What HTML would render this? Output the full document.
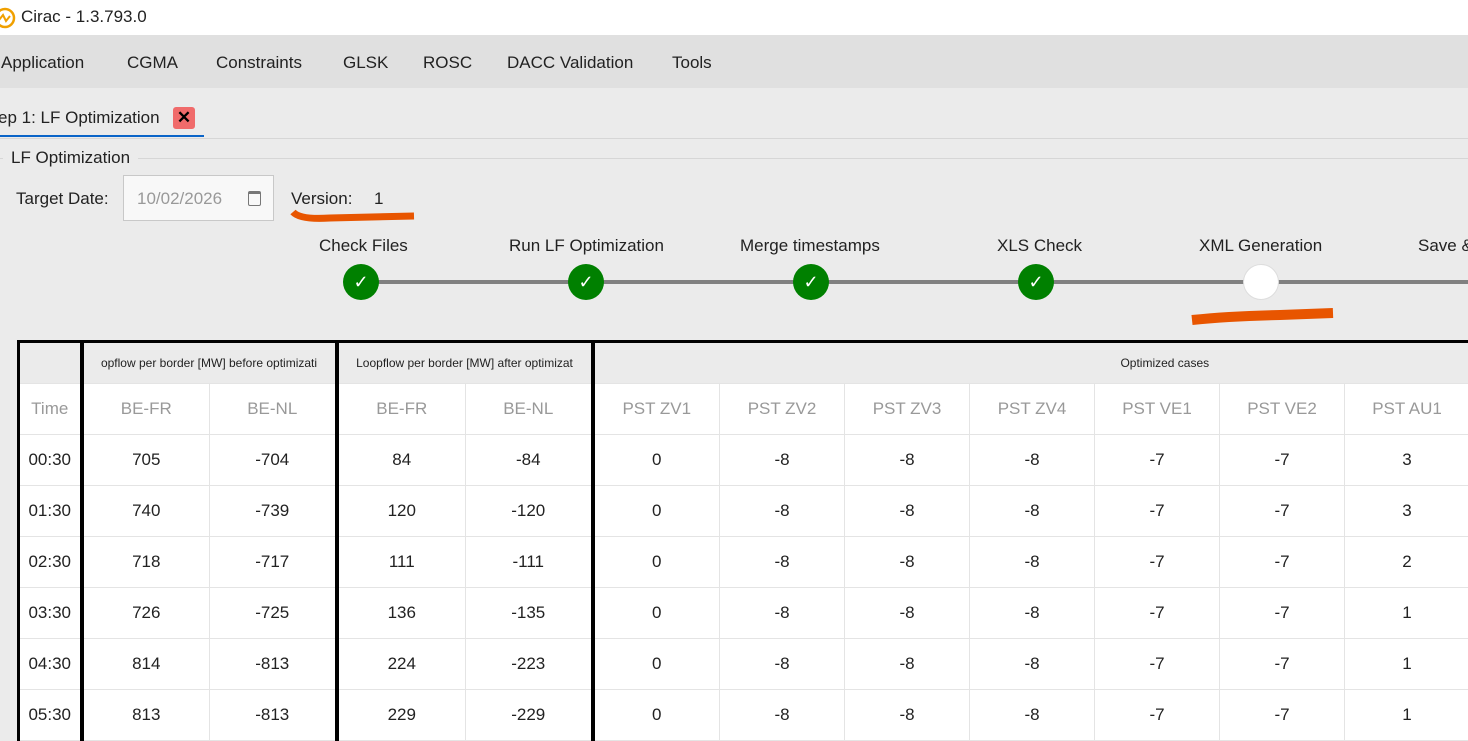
<!DOCTYPE html>
<html><head><style>
body{margin:0;width:1468px;height:740px;overflow:hidden;background:#ebebeb;font-family:"Segoe UI","Liberation Sans",sans-serif;position:relative;color:#222}
.a{position:absolute;white-space:nowrap}
#title{left:0;top:0;width:1468px;height:35px;background:#fff}
#menu{left:0;top:35px;width:1468px;height:53px;background:#e0e0e0}
.m{top:53px;font-size:17px;color:#222}
.step{font-size:17px;top:236px;color:#222}
.c{position:absolute;width:36px;height:36px;border-radius:50%;background:#008000;top:264px;color:#fff;text-align:center;line-height:36px;font-size:18px}
#wrap{position:absolute;left:0;top:0;width:1900px;height:740px;overflow:visible}
table{position:absolute;left:17px;top:340px;width:1617px;border-collapse:collapse;table-layout:fixed;font-size:17px;border:3px solid #000;border-right:none;border-bottom:none}
td{border:1px solid #e4e4e4;text-align:center;height:50px;padding:0;background:#fff;overflow:hidden;white-space:nowrap}
tr.h td{height:40px;background:#ebebeb;font-size:12px;color:#222;border-color:#e4e4e4}
tr.s td{color:#999}
.k{border-left:4px solid #000 !important}
</style></head><body>
<div id="title" class="a"></div>
<svg class="a" style="left:-6px;top:7px" width="22" height="22"><circle cx="11" cy="11" r="9" fill="none" stroke="#f0a000" stroke-width="2.5"/><path d="M5 13 L9 8 L12 14 L16 9" fill="none" stroke="#f0a000" stroke-width="2"/></svg>
<div class="a" style="left:21px;top:7px;font-size:17px">Cirac - 1.3.793.0</div>
<div id="menu" class="a"></div>
<div class="a m" style="left:1px">Application</div>
<div class="a m" style="left:127px">CGMA</div>
<div class="a m" style="left:216px">Constraints</div>
<div class="a m" style="left:343px">GLSK</div>
<div class="a m" style="left:423px">ROSC</div>
<div class="a m" style="left:507px">DACC Validation</div>
<div class="a m" style="left:672px">Tools</div>
<div class="a" style="left:-2px;top:108px;font-size:17px">ep 1: LF Optimization</div>
<div class="a" style="left:173px;top:107px;width:22px;height:22px;background:#f06b6b;border-radius:3px;text-align:center;line-height:22px;font-weight:bold;font-size:17px;color:#000">✕</div>
<div class="a" style="left:0;top:138px;width:1468px;height:1px;background:#d6d6d6"></div>
<div class="a" style="left:0;top:135px;width:204px;height:2px;background:#0a64c8"></div>
<div class="a" style="left:0;top:158px;width:1468px;height:1px;background:#d6d6d6"></div>
<div class="a" style="left:3px;top:148px;padding:0 8px;background:#ebebeb;font-size:17px">LF Optimization</div>
<div class="a" style="left:16px;top:189px;font-size:17px">Target Date:</div>
<div class="a" style="left:123px;top:175px;width:151px;height:46px;background:#f8f8f8;border:1px solid #c8c8c8;box-sizing:border-box"></div>
<div class="a" style="left:137px;top:189px;font-size:17px;color:#999">10/02/2026</div>
<div class="a" style="left:248px;top:191px;width:11px;height:11px;border:1px solid #777;border-radius:2px;border-top-width:3px"></div>
<div class="a" style="left:291px;top:189px;font-size:17px">Version:</div>
<div class="a" style="left:374px;top:189px;font-size:17px">1</div>
<svg class="a" style="left:0;top:0" width="1468" height="340"><path d="M293 212 Q300 220 330 218 L414 216" stroke="#e85500" stroke-width="7" fill="none"/><path d="M1192 320 Q1230 316 1280 315 L1333 313" stroke="#e85500" stroke-width="10" fill="none"/></svg>
<div class="a" style="left:361px;top:280px;width:1107px;height:4px;background:#808080"></div>
<div class="a step" style="left:319px">Check Files</div>
<div class="a step" style="left:509px">Run LF Optimization</div>
<div class="a step" style="left:740px">Merge timestamps</div>
<div class="a step" style="left:997px">XLS Check</div>
<div class="a step" style="left:1199px">XML Generation</div>
<div class="a step" style="left:1418px">Save &amp;</div>
<div class="c" style="left:343px">✓</div>
<div class="c" style="left:568px">✓</div>
<div class="c" style="left:793px">✓</div>
<div class="c" style="left:1018px">✓</div>
<div class="c" style="left:1243px;background:#fff;border:1px solid #ddd;box-sizing:border-box"></div>
<div id="wrap">
<table>
<colgroup><col style="width:63px"><col style="width:128px"><col style="width:127px"><col style="width:129px"><col style="width:127px"><col style="width:127px"><col style="width:125px"><col style="width:125px"><col style="width:125px"><col style="width:125px"><col style="width:125px"><col style="width:125px"><col style="width:266px"></colgroup>
<tr class="h"><td></td><td colspan="2" class="k">opflow per border [MW] before optimizati</td><td colspan="2" class="k">Loopflow per border [MW] after optimizat</td><td colspan="8" class="k">Optimized cases</td></tr>
<tr class="s"><td>Time</td><td class="k">BE-FR</td><td>BE-NL</td><td class="k">BE-FR</td><td>BE-NL</td><td class="k">PST ZV1</td><td>PST ZV2</td><td>PST ZV3</td><td>PST ZV4</td><td>PST VE1</td><td>PST VE2</td><td>PST AU1</td><td></td></tr>
<tr><td>00:30</td><td class="k">705</td><td>-704</td><td class="k">84</td><td>-84</td><td class="k">0</td><td>-8</td><td>-8</td><td>-8</td><td>-7</td><td>-7</td><td>3</td><td></td></tr>
<tr><td>01:30</td><td class="k">740</td><td>-739</td><td class="k">120</td><td>-120</td><td class="k">0</td><td>-8</td><td>-8</td><td>-8</td><td>-7</td><td>-7</td><td>3</td><td></td></tr>
<tr><td>02:30</td><td class="k">718</td><td>-717</td><td class="k">111</td><td>-111</td><td class="k">0</td><td>-8</td><td>-8</td><td>-8</td><td>-7</td><td>-7</td><td>2</td><td></td></tr>
<tr><td>03:30</td><td class="k">726</td><td>-725</td><td class="k">136</td><td>-135</td><td class="k">0</td><td>-8</td><td>-8</td><td>-8</td><td>-7</td><td>-7</td><td>1</td><td></td></tr>
<tr><td>04:30</td><td class="k">814</td><td>-813</td><td class="k">224</td><td>-223</td><td class="k">0</td><td>-8</td><td>-8</td><td>-8</td><td>-7</td><td>-7</td><td>1</td><td></td></tr>
<tr><td>05:30</td><td class="k">813</td><td>-813</td><td class="k">229</td><td>-229</td><td class="k">0</td><td>-8</td><td>-8</td><td>-8</td><td>-7</td><td>-7</td><td>1</td><td></td></tr>
</table>
</div>
</body></html>
